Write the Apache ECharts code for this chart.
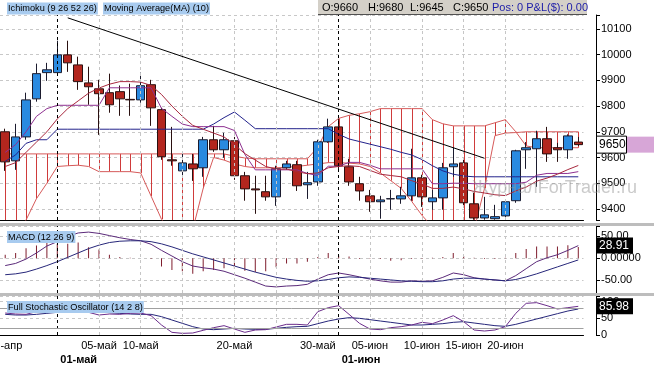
<!DOCTYPE html>
<html><head><meta charset="utf-8">
<script src="https://cdn.jsdelivr.net/npm/echarts@6/dist/echarts.min.js"></script>
<style>html,body{margin:0;padding:0;background:#fff}#c{width:654px;height:367px}</style>
</head><body><div id="c"></div>
<script>
const categories = ['25-апр','26-апр','27-апр','28-апр','29-апр','01-май','02-май','03-май','04-май','05-май','06-май','07-май','08-май','10-май','11-май','12-май','13-май','15-май','16-май','17-май','18-май','19-май','20-май','22-май','23-май','24-май','25-май','27-май','28-май','29-май','30-май','31-май','01-июн','02-июн','03-июн','05-июн','06-июн','07-июн','08-июн','09-июн','10-июн','12-июн','13-июн','14-июн','15-июн','16-июн','17-июн','19-июн','20-июн','21-июн','22-июн','23-июн','24-июн','26-июн','27-июн','28-июн'];
const tickLabels = ['25-апр','05-май','10-май','20-май','30-май','05-июн','10-июн','15-июн','20-июн'];
const gridDates = ['05-май','10-май','15-май','20-май','25-май','30-май','05-июн','10-июн','15-июн','20-июн'];
const monthStarts = ['01-май','01-июн'];

const open = [9700,9587,9680,9828,9930,9930,9999,9960,9890,9867, 9852,9856,9826,9824,9883,9786,9591,9548,9575,9560, 9669,9630,9665,9529,9478,9467,9447,9560,9572,9494, 9505,9661,9719,9564,9498,9451,9428,9439,9439,9451, 9521,9428,9443,9564,9579,9420,9365,9362,9373,9432, 9630,9634,9673,9638,9630,9660];
const high = [9712,9731,9852,9965,9968,10054,10054,9992,9953,9902, 9926,9880,9887,9930,9902,9793,9719,9614,9614,9680, 9723,9696,9680,9544,9529,9529,9568,9587,9587,9544, 9669,9751,9751,9595,9525,9474,9451,9474,9486,9634, 9533,9474,9579,9638,9595,9463,9447,9416,9435,9630, 9660,9704,9719,9657,9690,9680];
const low = [9548,9552,9669,9817,9898,9922,9933,9863,9805,9688, 9774,9762,9762,9813,9723,9591,9568,9529,9509,9525, 9622,9599,9513,9432,9381,9432,9412,9552,9470,9439, 9490,9657,9548,9490,9432,9389,9362,9397,9420,9432, 9408,9397,9397,9525,9408,9358,9358,9358,9365,9424, 9556,9486,9583,9583,9595,9645];
const close = [9583,9680,9824,9926,9941,9999,9968,9895,9875,9848, 9805,9828,9824,9879,9793,9603,9587,9579,9556,9669, 9630,9669,9529,9478,9474,9447,9556,9575,9490,9502, 9661,9719,9568,9505,9470,9428,9435,9440,9451,9521, 9447,9443,9560,9575,9424,9365,9377,9370,9428,9626, 9638,9673,9614,9630,9684,9650];

const tenkan = [9620,9650,9700,9760,9790,9803,9803,9803,9803,9803, 9871,9871,9871,9871,9871,9791,9760,9730,9720,9720, 9720,9720,9705,9612,9552,9552,9552,9552,9552,9538, 9530,9566,9566,9581,9581,9570,9556,9556,9556,9556, 9556,9498,9498,9500,9500,9498,9498,9498,9498,9498, 9504,9531,9538,9538,9538,9545];
const kijun = [9585,9610,9655,9669,9669,9710,9710,9710,9710,9710, 9710,9710,9710,9710,9710,9710,9710,9710,9710,9710, 9730,9755,9777,9745,9712,9712,9712,9712,9712,9712, 9712,9712,9690,9672,9662,9652,9642,9632,9620,9610, 9592,9568,9548,9535,9528,9525,9525,9525,9525,9525, 9525,9525,9525,9525,9525,9525];
const spanA = [9300,9300,9357,9440,9500,9565,9568,9570,9565,9545, 9545,9545,9545,9540,9450,9360,9300,9300,9320,9480, 9600,9590,9575,9565,9560,9560,9560,9562,9565,9570, 9575,9580,9580,9578,9575,9565,9540,9510,9480,9430, 9375,9330,9300,9300,9300,9320,9480,9685,9695,9697, 9700,9700,9700,9700,9700,9700];
const spanB = [9614,9614,9614,9614,9614,9614,9614,9614,9614,9614, 9614,9614,9614,9614,9614,9614,9614,9614,9614,9614, 9614,9614,9605,9598,9595,9595,9595,9595,9595,9595, 9640,9720,9752,9764,9770,9778,9790,9790,9790,9790, 9790,9747,9731,9723,9723,9723,9723,9735,9747,9700, 9645,9638,9638,9638,9638,9638];
const ma10 = [9565,9580,9620,9660,9700,9750,9790,9820,9850,9870, 9885,9895,9895,9893,9880,9845,9800,9760,9725,9710, 9695,9680,9650,9615,9590,9565,9555,9555,9545,9537, 9540,9560,9565,9568,9565,9550,9535,9530,9525,9510, 9497,9480,9480,9485,9478,9468,9462,9455,9452,9470, 9485,9508,9520,9535,9553,9569];
const trendLine = [['02-май', 10143], ['17-июн', 9597]];

const macdLine = [-17,-12,-2,12,28,38,50,58,60,57, 52,47,43,40,32,18,5,-8,-18,-22, -25,-30,-38,-46,-55,-64,-66,-64,-63,-60, -48,-38,-34,-38,-43,-48,-52,-55,-55,-52, -53,-52,-44,-34,-38,-45,-48,-50,-52,-40, -24,-8,1,8,18,28.91];
const signalLine = [-38,-36,-32,-25,-17,-8,2,12,22,30, 36,39,40,40,38,33,26,18,10,3, -4,-11,-18,-25,-32,-38,-44,-48,-51,-53, -52,-49,-45,-43,-44,-46,-48,-50,-52,-53, -54,-54,-52,-48,-46,-46,-48,-50,-52,-49, -43,-36,-28,-20,-12,-4];
const macdHist = [8,12,23,29,35,33,33,36,25,20, 8,3,1,0,-2,-19,-27,-30,-36,-30, -27,-23,-25,-29,-32,-30,-21,-12,-12,-8, 3,12,6,4,-2,-1,-2,-6,-5,-2, -1,1,3,12,5,1,-2,-2,1,12, 21,27,27,27,30,26];

const stochK = [66,63,62,70,75,80,85,78,68,60, 63,62,65,66,58,30,8,5,6,14, 22,28,18,8,15,16,24,32,32,30, 70,82,88,62,35,18,16,22,25,30, 38,34,45,58,40,15,12,15,25,65, 95,97,88,78,82,85.98];
const stochD = [62,60,60,62,65,68,72,75,74,70, 67,65,63,62,62,55,45,35,25,18, 16,18,20,18,17,17,20,23,25,26, 34,42,48,52,50,46,42,38,34,30, 30,32,34,38,40,36,32,28,26,32, 40,48,56,64,72,78];
const stochLevels = [80, 20];

const FONT = 'Liberation Sans, Arial, sans-serif';
const W = 583.5;
const last = close.length - 1;

const chart = echarts.init(document.getElementById('c'), null, {renderer: 'canvas'});

const gridMark = () => ({
  symbol: 'none', silent: true, animation: false,
  label: {show: false},
  data: gridDates.map(d => ({xAxis: d, lineStyle: {color: '#c6c6c6', type: [3, 3], width: 1}}))
    .concat(monthStarts.map(d => ({xAxis: d, lineStyle: {color: '#000', type: [3, 3], width: 1}})))
});

const xBase = (gi) => ({
  type: 'category', gridIndex: gi, data: categories, boundaryGap: true,
  axisTick: {show: false},
  axisLabel: {show: false},
  axisLine: {show: gi !== 1, lineStyle: {color: '#000', width: 1}},
  splitLine: {show: false}
});

const yBase = {
  position: 'right', offset: 12.5,
  axisLine: {show: true, lineStyle: {color: '#000'}},
  axisTick: {show: true, length: 4, lineStyle: {color: '#000'}},
  splitLine: {show: true, lineStyle: {color: '#c8c8c8', type: [3, 3]}}
};

const xAxes = [xBase(0), xBase(1), xBase(2)];
xAxes[2].axisLabel = {
  show: true, interval: 0, margin: 5, color: '#000', fontSize: 11, fontFamily: FONT,
  formatter: (val) => (tickLabels.includes(val) ? val : '')
};
xAxes.push({
  type: 'category', gridIndex: 2, data: categories, boundaryGap: true, position: 'bottom', offset: 14,
  axisLine: {show: false}, axisTick: {show: false}, splitLine: {show: false},
  axisLabel: {show: true, interval: 0, align: 'left', margin: 5, padding: [0, 0, 0, 3], fontWeight: 'bold', fontSize: 11, color: '#000', fontFamily: FONT,
    formatter: val => (monthStarts.includes(val) ? val : '')}
});

const option = {
  animation: false,
  backgroundColor: '#fff',
  grid: [
    {left: 0, top: 15, width: W, height: 205, outerBoundsMode: 'none', containLabel: false},
    {left: 0, top: 226, width: W, height: 67, outerBoundsMode: 'none', containLabel: false},
    {left: 0, top: 296, width: W, height: 39, outerBoundsMode: 'none', containLabel: false}
  ],
  xAxis: xAxes,
  yAxis: [
    Object.assign({}, yBase, {type: 'value', gridIndex: 0, min: 9357, max: 10154, minInterval: 100, maxInterval: 100, splitNumber: 8,
      axisLabel: {margin: 5, color: '#000', fontSize: 11, fontFamily: FONT, formatter: v => (Math.round(v) % 100 === 0 ? String(v) : '')}}),
    Object.assign({}, yBase, {type: 'value', gridIndex: 1, min: -80, max: 74, minInterval: 50, maxInterval: 50, splitNumber: 3,
      axisLabel: {margin: 5, color: '#000', fontSize: 11, fontFamily: FONT, formatter: v => (v === 0 ? '0.00000' : (Math.round(v) % 50 === 0 ? v.toFixed(2) : ''))}}),
    Object.assign({}, yBase, {type: 'value', gridIndex: 2, min: 0, max: 117, interval: 50,
      axisLabel: {margin: 5, color: '#000', fontSize: 11, fontFamily: FONT, formatter: v => (v % 50 === 0 ? String(v) : '')}})
  ],
  series: [
    {type: 'line', xAxisIndex: 0, yAxisIndex: 0, data: kijun.map(() => null), z: 1, silent: true, markLine: gridMark()},
    {type: 'custom', xAxisIndex: 0, yAxisIndex: 0, z: 2, silent: true,
      data: spanA.map((a, i) => [i, a, spanB[i]]),
      encode: {x: 0, y: [1, 2]},
      renderItem: (params, api) => {
        const p1 = api.coord([api.value(0), api.value(1)]);
        const p2 = api.coord([api.value(0), api.value(2)]);
        const cs = params.coordSys;
        const clamp = y => Math.max(cs.y, Math.min(cs.y + cs.height, y));
        const x = Math.round(p1[0]) + 0.5;
        return {type: 'line', shape: {x1: x, y1: clamp(p1[1]), x2: x, y2: clamp(p2[1])}, style: {stroke: '#cf3b3b', lineWidth: 1}};
      }},
    {type: 'line', name: 'spanA', xAxisIndex: 0, yAxisIndex: 0, data: spanA, symbol: 'none', z: 2, clip: true, lineStyle: {color: '#d65a5a', width: 1}},
    {type: 'line', name: 'spanB', xAxisIndex: 0, yAxisIndex: 0, data: spanB, symbol: 'none', z: 2, clip: true, lineStyle: {color: '#d65a5a', width: 1}},
    {type: 'candlestick', xAxisIndex: 0, yAxisIndex: 0, z: 3, barWidth: 9,
      data: open.map((o, i) => [o, close[i], low[i], high[i]]),
      itemStyle: {color: '#2a8ae0', color0: '#b3261e', borderColor: '#1b1b2e', borderColor0: '#2a1010', borderWidth: 1}},
    {type: 'line', name: 'kijun', xAxisIndex: 0, yAxisIndex: 0, data: kijun, symbol: 'none', z: 4, lineStyle: {color: '#23238c', width: 1}},
    {type: 'line', name: 'tenkan', xAxisIndex: 0, yAxisIndex: 0, data: tenkan, symbol: 'none', z: 4, lineStyle: {color: '#8e3090', width: 1}},
    {type: 'line', name: 'ma10', xAxisIndex: 0, yAxisIndex: 0, data: ma10, symbol: 'none', z: 4, lineStyle: {color: '#a8283e', width: 1}},
    {type: 'line', name: 'trend', xAxisIndex: 0, yAxisIndex: 0, data: trendLine, symbol: 'none', z: 5, lineStyle: {color: '#000', width: 1}},
    {type: 'bar', xAxisIndex: 1, yAxisIndex: 1, data: macdHist, barWidth: 1, z: 2, itemStyle: {color: '#7f1d2d'}, markLine: gridMark()},
    {type: 'line', xAxisIndex: 1, yAxisIndex: 1, data: macdLine, symbol: 'none', z: 3, lineStyle: {color: '#5b2a7a', width: 1}},
    {type: 'line', xAxisIndex: 1, yAxisIndex: 1, data: signalLine, symbol: 'none', z: 3, lineStyle: {color: '#27277a', width: 1}},
    {type: 'line', xAxisIndex: 2, yAxisIndex: 2, data: stochD, symbol: 'none', z: 3, lineStyle: {color: '#26267a', width: 1}, markLine: gridMark()},
    {type: 'line', xAxisIndex: 2, yAxisIndex: 2, data: stochK, symbol: 'none', z: 3, lineStyle: {color: '#6b2d8b', width: 1},
      markLine: {symbol: 'none', silent: true, label: {show: false}, lineStyle: {color: '#a0a0a0', type: 'solid', width: 1},
        data: stochLevels.map(v => ({yAxis: v}))}}
  ]
};
chart.setOption(option);

const yP = chart.convertToPixel({yAxisIndex: 0}, close[last]);
const yM = chart.convertToPixel({yAxisIndex: 1}, macdLine[last]);
const yS = chart.convertToPixel({yAxisIndex: 2}, stochK[last]);
const txt = (text, x, y, extra) => Object.assign({type: 'text', x: x, y: y, z: 100,
  style: Object.assign({text: text, fill: '#000', font: '11px ' + FONT, verticalAlign: 'middle'}, extra || {})});
const LBL = {font: '9.2px ' + FONT, backgroundColor: '#a8cbef', padding: [2, 1, 1, 1]};

chart.setOption({graphic: [
  {type: 'rect', shape: {x: 0, y: 223, width: 654, height: 3}, style: {fill: '#bdbdbd'}, z: 90},
  {type: 'rect', shape: {x: 0, y: 293, width: 654, height: 3}, style: {fill: '#bdbdbd'}, z: 90},
  {type: 'rect', shape: {x: 318, y: 0, width: 269, height: 14}, style: {fill: '#d4d0c8'}, z: 90},
  {type: 'line', shape: {x1: 318, y1: 14.5, x2: 587, y2: 14.5}, style: {stroke: '#505050', lineWidth: 1}, z: 91},
  txt('O:' + open[last], 322, 7.5),
  txt('H:' + high[last], 368, 7.5),
  txt('L:' + low[last], 410, 7.5),
  txt('C:' + close[last], 453, 7.5),
  txt('Pos: 0 P&L($): 0.00', 492, 7.5, {fill: '#1c1ca8'}),
  txt('Ichimoku (9 26 52 26)', 7, 8.5, LBL),
  txt('Moving Average(MA) (10)', 103, 8.5, LBL),
  txt('MACD (12 26 9)', 7, 237, LBL),
  txt('Full Stochastic Oscillator (14 2 8)', 7, 307, LBL),
  {type: 'rect', shape: {x: 626, y: yP - 8, width: 28, height: 16}, style: {fill: '#d7a6d7'}, z: 95},
  {type: 'rect', shape: {x: 596.5, y: yP - 8.5, width: 30, height: 17}, style: {fill: '#fff', stroke: '#000', lineWidth: 1}, z: 96},
  txt(String(close[last]), 599, yP + 0.5, {font: '12px ' + FONT}),
  {type: 'rect', shape: {x: 596, y: yM - 8, width: 37, height: 16}, style: {fill: '#000'}, z: 96},
  txt(macdLine[last].toFixed(2), 599, yM + 0.5, {fill: '#fff', font: '12px ' + FONT}),
  {type: 'rect', shape: {x: 596, y: yS - 8, width: 37, height: 16}, style: {fill: '#000'}, z: 96},
  txt(stochK[last].toFixed(2), 599, yS + 0.5, {fill: '#fff', font: '12px ' + FONT}),
  txt('ЖурналForTrader.ru', 472, 188, {fill: 'rgba(150,150,150,0.5)', font: '18px ' + FONT})
]});
</script>
</body></html>
